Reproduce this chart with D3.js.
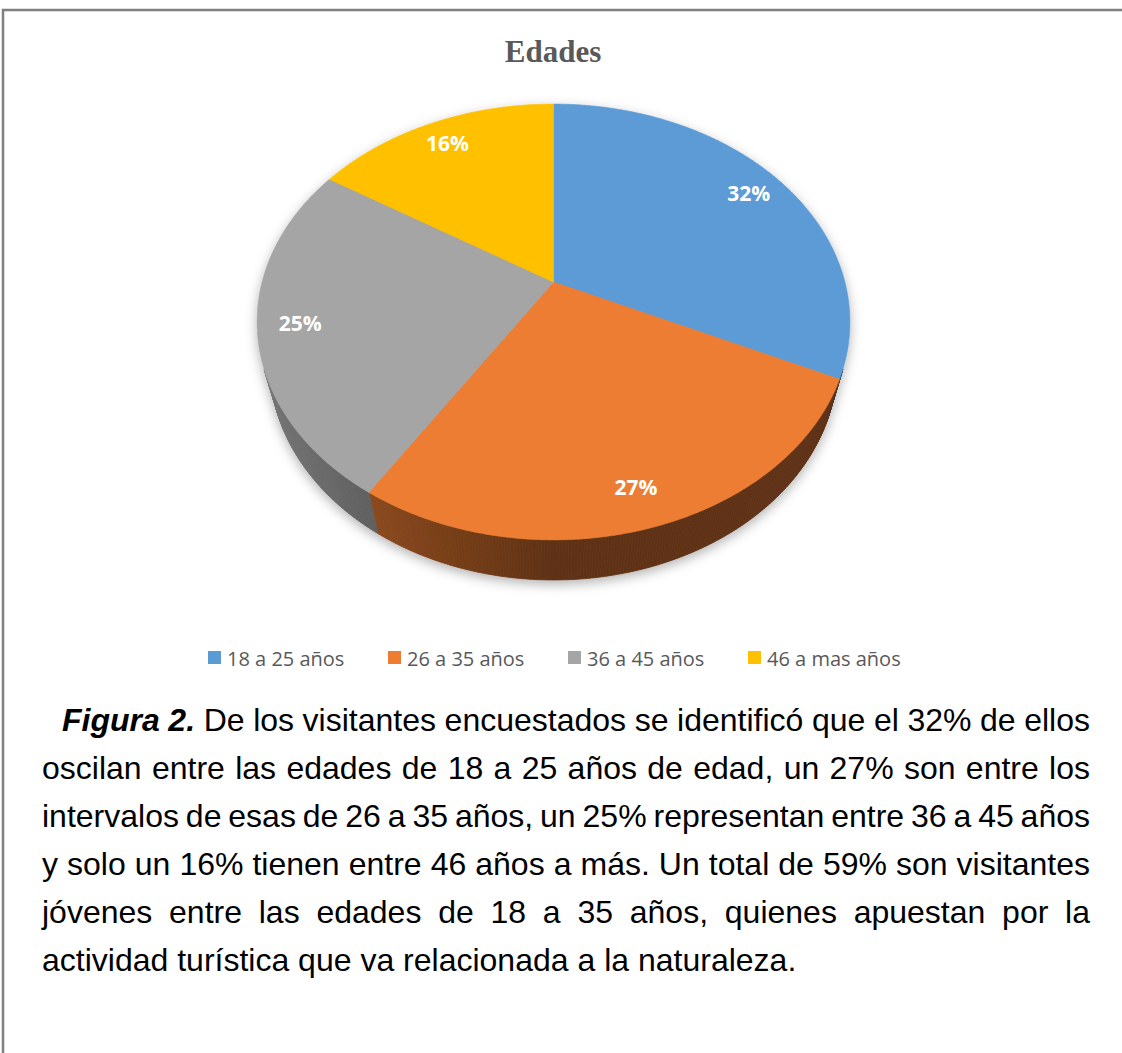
<!DOCTYPE html>
<html><head><meta charset="utf-8">
<script src="https://cdn.jsdelivr.net/npm/d3@7"></script>
<style>body{margin:0;background:#fff}</style></head>
<body>
<svg id="c" width="1122" height="1053"></svg>
<script>
// ---- data ----
const chartTitle = "Edades";
const categories = ["18 a 25 años", "26 a 35 años", "36 a 45 años", "46 a mas años"];
const values = [32, 27, 25, 16];
const colors = ["#5B9BD5", "#ED7D31", "#A5A5A5", "#FFC000"];
const captionLines = [
  "Figura 2. De los visitantes encuestados se identificó que el 32% de ellos",
  "oscilan entre las edades de 18 a 25 años de edad, un 27% son entre los",
  "intervalos de esas de 26 a 35 años, un 25% representan entre 36 a 45 años",
  "y solo un 16% tienen entre 46 años a más. Un total de 59% son visitantes",
  "jóvenes entre las edades de 18 a 35 años, quienes apuestan por la",
  "actividad turística que va relacionada a la naturaleza."
];
const boldWords = 2; // "Figura 2."

const svg = d3.select("#c");
svg.append("rect").attr("width", 1122).attr("height", 1053).attr("fill", "#fff");

// frame
svg.append("path").attr("d", "M3,1053 V10 H1122").attr("fill", "none")
  .attr("stroke", "#7f7f7f").attr("stroke-width", 2.5);

// title
svg.append("text").attr("x", 553).attr("y", 62).attr("text-anchor", "middle")
  .attr("font-family", "'Liberation Serif','Times New Roman',serif").attr("font-weight", "bold")
  .attr("font-size", 31).attr("fill", "#595959").text(chartTitle);

// ---- 3D perspective projection ----
const P = {cx: 553.5, cy: 282, f: 1098, a: 3.768, sin: 0.7227, cos: 0.691, h: 0.227};
function proj(X, Y, Z) {
  const yc = Y * P.sin + Z * P.cos, zc = P.a + Y * P.cos - Z * P.sin;
  return [P.cx + P.f * X / zc, P.cy - P.f * yc / zc];
}
function pt(r, ang, Z) { return proj(r * Math.sin(ang), r * Math.cos(ang), Z); }

const arcs = d3.pie().sort(null).value(d => d)(values);

const defs = svg.append("defs");
const flt = defs.append("filter").attr("id", "sh").attr("x", "-20%").attr("y", "-20%")
  .attr("width", "140%").attr("height", "150%");
flt.append("feDropShadow").attr("dx", 0).attr("dy", 4).attr("stdDeviation", 6)
  .attr("flood-color", "#000").attr("flood-opacity", 0.3);

const pieG = svg.append("g").attr("filter", "url(#sh)");
const line = d3.line();
const step = Math.PI / 360;

// side walls (visible front part of the cylinder)
const vA = Math.acos(-1 / (P.a * P.cos)), vB = 2 * Math.PI - vA;
const sideG = pieG.append("g");
arcs.forEach((d, i) => {
  const s = Math.max(d.startAngle, vA), e = Math.min(d.endAngle, vB);
  if (e <= s) return;
  const base = d3.rgb(colors[i]);
  const n = Math.max(1, Math.ceil((e - s) / step));
  for (let k = 0; k < n; k++) {
    const a0 = s + (e - s) * k / n, a1 = s + (e - s) * (k + 1) / n;
    const am = (a0 + a1) / 2;
    const fct = 0.40 + 0.34 * Math.max(0, -Math.sin(am));
    const col = d3.rgb(base.r * fct, base.g * fct, base.b * fct).formatHex();
    const poly = [pt(1, a0, 0), pt(1, a1, 0), pt(1, a1, -P.h), pt(1, a0, -P.h)];
    sideG.append("path").attr("d", line(poly) + "Z").attr("fill", col)
      .attr("stroke", col).attr("stroke-width", 0.8);
  }
});

// top faces
const topG = pieG.append("g");
arcs.forEach((d, i) => {
  const pts = [proj(0, 0, 0)];
  const n = Math.ceil((d.endAngle - d.startAngle) / step);
  for (let k = 0; k <= n; k++) {
    pts.push(pt(1, d.startAngle + (d.endAngle - d.startAngle) * k / n, 0));
  }
  topG.append("path").attr("d", line(pts) + "Z").attr("fill", colors[i])
    .attr("stroke", colors[i]).attr("stroke-width", 0.6);
});

// data labels
const fmt = v => d3.format(".0f")(v) + "%";
arcs.forEach((d, i) => {
  const m = (d.startAngle + d.endAngle) / 2;
  const [x, y] = pt(0.86, m, 0);
  svg.append("text").attr("x", x).attr("y", y).attr("text-anchor", "middle")
    .attr("dominant-baseline", "central").attr("font-family", "'Open Sans',sans-serif")
    .attr("font-weight", "bold").attr("font-size", 21).attr("fill", "#fff").text(fmt(values[i]));
});

// legend
const lx = d3.scaleBand().domain(categories).range([208, 928]);
const lg = svg.append("g");
categories.forEach((c, i) => {
  lg.append("rect").attr("x", lx(c)).attr("y", 651).attr("width", 13).attr("height", 13).attr("fill", colors[i]);
  lg.append("text").attr("x", lx(c) + 19).attr("y", 658).attr("dominant-baseline", "central")
    .attr("font-family", "'Open Sans',sans-serif").attr("font-size", 20).attr("fill", "#595959").text(c);
});

// caption (justified)
const capG = svg.append("g").attr("font-family", "'Liberation Sans',Arial,sans-serif").attr("fill", "#000");
const fs = 32;
const lineY = [731, 779, 827, 875, 923, 971];
captionLines.forEach((ln, li) => {
  const words = ln.split(" ");
  const x0 = li === 0 ? 62 : 42, x1 = 1090;
  const nodes = words.map((w, wi) => {
    const t = capG.append("text").attr("y", lineY[li]).attr("font-size", fs).text(w);
    if (li === 0 && wi < boldWords) t.attr("font-weight", "bold").attr("font-style", "italic");
    return t;
  });
  const widths = nodes.map(t => t.node().getComputedTextLength());
  const total = d3.sum(widths);
  const last = li === captionLines.length - 1;
  const gap = last ? fs * 0.278 : (x1 - x0 - total) / (words.length - 1);
  let x = x0;
  nodes.forEach((t, k) => { t.attr("x", x); x += widths[k] + gap; });
});
</script>
</body></html>
